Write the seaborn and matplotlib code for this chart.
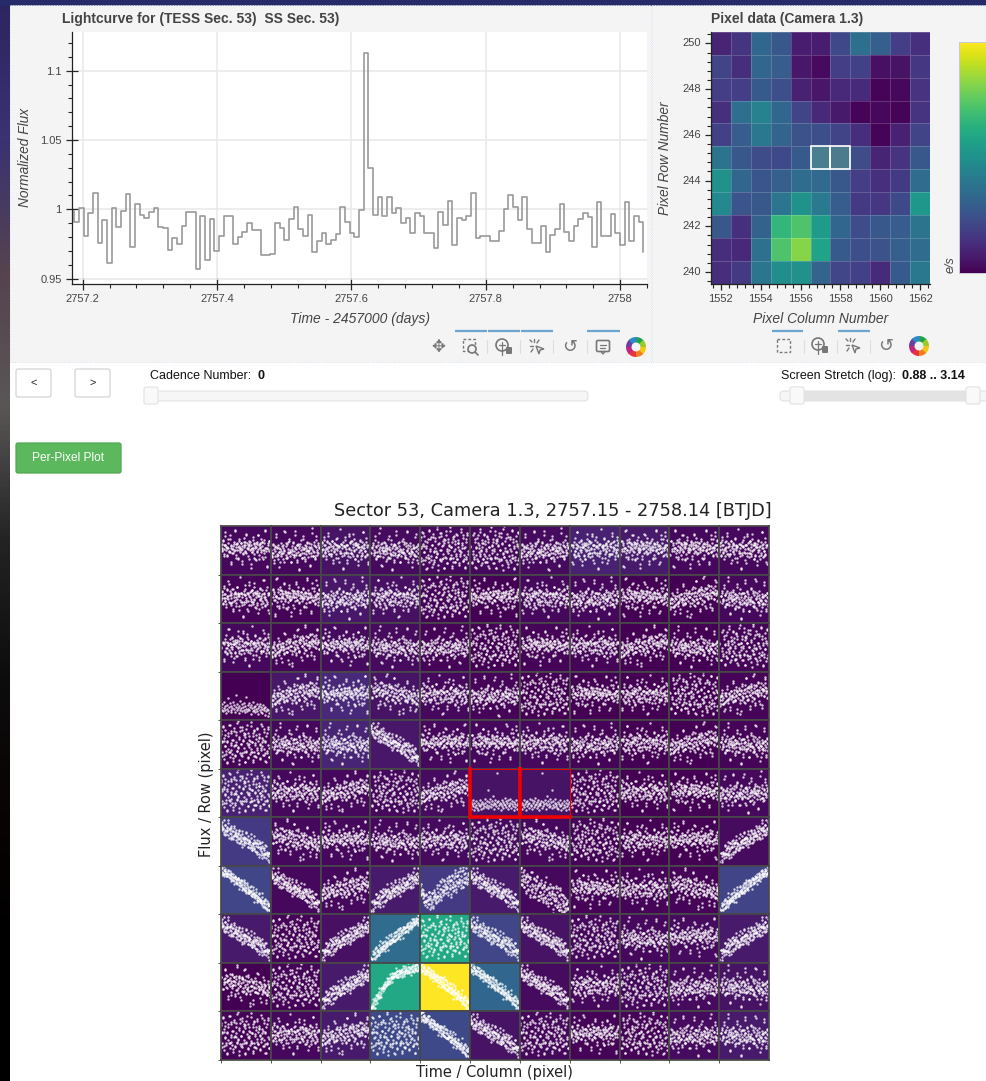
import matplotlib
matplotlib.use("Agg")
import matplotlib.pyplot as plt
import numpy as np
import seaborn as sns
from matplotlib.colors import LinearSegmentedColormap
from matplotlib.patches import Circle, FancyBboxPatch, Polygon, Rectangle, Wedge

W, H = 987, 1081

# lightcurve, one value per 10 min cadence
lc_start = 2757.1806
lc_step = 0.0069444
lc_flux = [
    0.999, 0.991, 1.001, 0.981, 0.997, 1.012, 0.976, 0.992, 0.961, 1.001, 0.987, 0.999, 1.011,
    0.973, 1.004, 0.996, 0.9935, 0.998, 1.001, 0.987, 0.9865, 0.971, 0.979, 0.975, 0.988, 0.998,
    0.998, 0.957, 0.995, 0.9635, 0.993, 0.970, 0.981, 0.995, 0.995, 0.975, 0.980, 0.984, 0.990,
    0.985, 0.985, 0.967, 0.967, 0.968, 0.990, 0.9865, 0.978, 0.993, 1.002, 0.9855, 0.981, 0.996,
    0.969, 0.9775, 0.983, 0.975, 0.978, 0.982, 1.002, 0.991, 0.983, 0.980, 0.9995, 1.113,
    1.030, 0.996, 1.009, 0.995, 1.009, 0.997, 1.001, 0.990, 0.994, 0.983, 0.997, 0.995, 0.983,
    0.983, 0.972, 0.998, 0.989, 1.006, 0.974, 0.994, 0.992, 0.995, 1.012, 0.979, 0.981, 0.981,
    0.9775, 0.9775, 0.9845, 1.000, 1.010, 1.0015, 0.992, 1.009, 0.9855, 0.9755, 0.9755, 0.988,
    0.969, 0.9815, 0.986, 1.004, 0.984, 0.977, 0.988, 0.993, 0.9975, 0.9945, 0.973, 1.0055, 0.981,
    0.981, 0.9965, 0.983, 0.974, 1.005, 0.977, 0.995, 0.9905, 0.969,
]

lc_xticks = [2757.2, 2757.4, 2757.6, 2757.8, 2758.0]
lc_xlabels = ["2757.2", "2757.4", "2757.6", "2757.8", "2758"]
lc_yticks = [0.95, 1.0, 1.05, 1.1]
lc_ylabels = ["0.95", "1", "1.05", "1.1"]

# pixel image, position on the colour bar from 0 to 1, top row is 250
pixel_columns = list(range(1552, 1563))
pixel_rows = list(range(250, 239, -1))
pixel_data = [
    [0.10, 0.15, 0.33, 0.27, 0.08, 0.08, 0.22, 0.36, 0.30, 0.18, 0.14],
    [0.20, 0.13, 0.33, 0.29, 0.06, 0.03, 0.18, 0.19, 0.04, 0.05, 0.16],
    [0.18, 0.18, 0.28, 0.24, 0.09, 0.06, 0.11, 0.12, 0.01, 0.02, 0.15],
    [0.14, 0.36, 0.44, 0.33, 0.20, 0.11, 0.07, 0.01, 0.02, 0.01, 0.15],
    [0.19, 0.29, 0.40, 0.32, 0.25, 0.24, 0.20, 0.13, 0.01, 0.09, 0.20],
    [0.38, 0.27, 0.23, 0.22, 0.28, 0.36, 0.35, 0.23, 0.10, 0.15, 0.27],
    [0.50, 0.33, 0.26, 0.30, 0.35, 0.34, 0.27, 0.18, 0.14, 0.17, 0.35],
    [0.47, 0.26, 0.27, 0.39, 0.50, 0.41, 0.29, 0.17, 0.16, 0.22, 0.53],
    [0.27, 0.14, 0.31, 0.66, 0.72, 0.55, 0.33, 0.23, 0.27, 0.29, 0.38],
    [0.13, 0.11, 0.37, 0.72, 0.82, 0.58, 0.28, 0.24, 0.25, 0.30, 0.35],
    [0.13, 0.17, 0.39, 0.49, 0.50, 0.32, 0.21, 0.19, 0.12, 0.28, 0.40],
]

# background level of each small panel in the per-pixel plot
cell_level = [
    [0.02, 0.02, 0.05, 0.03, 0.02, 0.02, 0.03, 0.09, 0.07, 0.02, 0.02],
    [0.01, 0.01, 0.06, 0.04, 0.01, 0.00, 0.02, 0.02, 0.00, 0.00, 0.02],
    [0.02, 0.01, 0.03, 0.03, 0.01, 0.00, 0.01, 0.01, 0.00, 0.00, 0.01],
    [0.00, 0.06, 0.11, 0.05, 0.02, 0.01, 0.00, 0.00, 0.00, 0.00, 0.01],
    [0.01, 0.02, 0.10, 0.06, 0.02, 0.02, 0.02, 0.01, 0.00, 0.00, 0.01],
    [0.09, 0.02, 0.02, 0.02, 0.03, 0.05, 0.05, 0.01, 0.00, 0.00, 0.02],
    [0.17, 0.02, 0.02, 0.02, 0.03, 0.03, 0.02, 0.01, 0.00, 0.00, 0.03],
    [0.21, 0.02, 0.02, 0.07, 0.17, 0.07, 0.02, 0.01, 0.01, 0.01, 0.20],
    [0.07, 0.01, 0.04, 0.35, 0.60, 0.21, 0.05, 0.02, 0.02, 0.03, 0.07],
    [0.00, 0.01, 0.07, 0.60, 1.00, 0.33, 0.03, 0.02, 0.02, 0.03, 0.05],
    [0.01, 0.02, 0.07, 0.22, 0.22, 0.05, 0.02, 0.01, 0.01, 0.03, 0.07],
]

# the panels hold too many dots to read one by one, so these are typed sample
# clouds in the look of each panel type (percent of the panel height / width)
cloud_time = [
    0.0, 1.3, 2.1, 4.0, 5.2, 5.9, 7.8, 8.4, 10.1, 11.7, 12.2, 14.0, 14.9, 16.6, 17.1, 19.3, 20.2, 21.0, 22.9, 24.4,
    25.1, 26.8, 27.3, 29.5, 30.2, 31.6, 33.0, 33.7, 35.4, 36.1, 38.2, 38.9, 40.3, 41.8, 42.4, 44.1, 45.6, 46.2, 47.9, 48.5,
    50.4, 51.0, 52.7, 53.3, 55.0, 56.2, 56.9, 58.7, 59.4, 61.1, 61.8, 63.5, 64.2, 65.9, 66.4, 68.3, 69.1, 70.0, 71.6, 72.3,
    74.0, 75.2, 75.9, 77.6, 78.3, 80.1, 80.8, 82.4, 83.3, 85.0, 85.7, 87.2, 88.6, 89.3, 91.0, 92.1, 93.4, 94.8, 96.5, 100.0,
]
# typed offsets for a second, denser pass of dots in each panel
cloud_spread = [
    5, -7, 3, -2, 8, -5, 1, -9, 6, -3, 2, 7, -6, -1, 9, -4, 4, -8, 0, 6,
    -5, 2, -3, 7, -7, 1, 5, -2, -9, 3, 8, -4, 0, -6, 6, 2, -8, 4, -1, 7,
    -3, 9, -5, 1, -7, 5, -2, 3, 8, -6, 0, -4, 6, -9, 2, 4, -1, 7, -5, -3,
    1, 8, -7, 3, -2, 5, -6, 9, -4, 0, 6, -8, 2, -1, 7, -3, 4, -5, 1, -2,
]
flat_a = [55, 62, 48, 71, 52, 43, 60, 88, 50, 57, 39, 66, 54, 47, 73, 58, 21, 61, 44, 53, 68, 49, 92, 56, 41, 63, 51, 35, 59, 70, 46, 55, 64, 27, 52, 42, 75, 57, 48, 60, 84, 45, 66, 53, 38, 58, 69, 50, 14, 61, 47, 55, 72, 43, 62, 54, 31, 57, 67, 49, 81, 52, 40, 63, 56, 46, 74, 59, 36, 51, 65, 44, 90, 55, 48, 18, 60, 53, 69, 42]
flat_b = [47, 58, 64, 41, 52, 77, 45, 60, 33, 55, 68, 49, 86, 43, 57, 62, 38, 51, 70, 24, 59, 46, 65, 53, 42, 74, 50, 61, 35, 56, 94, 48, 63, 44, 54, 12, 67, 40, 58, 71, 47, 52, 29, 60, 45, 79, 55, 64, 37, 50, 69, 43, 57, 83, 48, 61, 33, 53, 66, 41, 56, 20, 63, 47, 72, 51, 39, 59, 45, 88, 54, 62, 36, 49, 68, 43, 57, 26, 60, 50]
flat_c = [40, 51, 36, 63, 45, 29, 57, 48, 78, 42, 54, 33, 60, 47, 16, 52, 38, 66, 44, 55, 31, 49, 90, 58, 41, 35, 62, 46, 53, 70, 39, 50, 25, 59, 43, 65, 48, 37, 56, 82, 44, 52, 30, 61, 47, 54, 11, 40, 63, 50, 34, 57, 74, 45, 52, 28, 60, 42, 55, 68, 48, 37, 64, 51, 20, 57, 44, 86, 53, 39, 61, 47, 33, 58, 72, 50, 41, 66, 55, 46]
flat_d = [36, 48, 30, 52, 41, 62, 33, 45, 18, 55, 38, 49, 70, 42, 35, 57, 46, 28, 60, 44, 52, 37, 80, 56, 48, 40, 63, 51, 24, 58, 45, 67, 53, 42, 12, 60, 50, 71, 47, 56, 38, 64, 55, 86, 49, 61, 43, 68, 58, 30, 52, 74, 63, 48, 57, 92, 45, 66, 60, 35, 71, 54, 62, 49, 78, 58, 40, 68, 56, 64, 26, 73, 60, 50, 69, 88, 57, 66, 46, 72]
wide = [72, 34, 55, 88, 21, 63, 46, 79, 30, 58, 12, 67, 41, 91, 25, 52, 74, 38, 60, 16, 83, 47, 29, 69, 55, 36, 94, 44, 19, 62, 77, 33, 50, 86, 27, 58, 42, 70, 14, 65, 37, 81, 53, 23, 74, 45, 60, 31, 89, 40, 56, 18, 68, 35, 78, 49, 26, 62, 43, 84, 32, 57, 71, 20, 51, 38, 93, 46, 64, 28, 76, 41, 55, 15, 67, 36, 82, 48, 24, 59]
slope = [82, 90, 74, 78, 95, 70, 84, 73, 66, 80, 71, 88, 63, 75, 68, 59, 77, 65, 72, 56, 83, 62, 69, 54, 74, 60, 50, 67, 57, 71, 48, 63, 52, 44, 66, 55, 60, 42, 58, 49, 70, 46, 53, 38, 61, 45, 51, 36, 57, 43, 33, 48, 40, 62, 35, 46, 30, 41, 53, 28, 38, 44, 25, 35, 48, 31, 22, 40, 27, 36, 18, 33, 24, 42, 16, 29, 21, 12, 26, 9]
slope_wide = [88, 70, 95, 62, 80, 73, 56, 91, 66, 48, 77, 60, 84, 52, 68, 40, 72, 58, 87, 46, 63, 35, 75, 54, 43, 69, 50, 79, 38, 58, 30, 65, 47, 71, 33, 55, 42, 25, 61, 49, 36, 67, 28, 52, 39, 18, 57, 44, 31, 63, 23, 48, 35, 12, 54, 29, 41, 20, 59, 33, 15, 46, 26, 37, 10, 50, 22, 32, 8, 40, 18, 27, 5, 35, 14, 24, 9, 30, 12, 6]
tight = [94, 88, 96, 85, 91, 83, 89, 93, 80, 86, 78, 84, 90, 76, 81, 73, 79, 85, 71, 77, 68, 74, 80, 66, 72, 63, 70, 75, 61, 67, 58, 65, 71, 56, 62, 53, 60, 66, 50, 57, 48, 55, 61, 45, 52, 43, 50, 56, 40, 47, 38, 45, 51, 35, 42, 33, 40, 46, 30, 37, 28, 35, 41, 25, 32, 23, 30, 36, 20, 27, 17, 24, 30, 14, 21, 11, 18, 24, 8, 13]
arch = [4, 10, 7, 14, 18, 12, 22, 16, 27, 21, 31, 25, 36, 29, 40, 34, 44, 38, 49, 43, 53, 47, 57, 50, 60, 54, 63, 58, 66, 60, 69, 63, 72, 66, 74, 68, 77, 70, 79, 73, 75, 81, 76, 83, 78, 72, 85, 80, 74, 86, 81, 76, 88, 83, 77, 89, 84, 79, 90, 85, 80, 91, 86, 81, 92, 87, 82, 93, 88, 84, 94, 89, 85, 95, 90, 86, 96, 91, 88, 93]
low = [28, 22, 33, 18, 26, 37, 20, 29, 15, 31, 24, 45, 19, 27, 35, 21, 30, 16, 25, 38, 23, 32, 17, 52, 28, 20, 34, 26, 14, 30, 22, 40, 25, 18, 33, 27, 21, 36, 16, 29, 24, 48, 19, 31, 23, 35, 20, 27, 13, 32, 25, 18, 38, 22, 28, 16, 30, 24, 19, 34, 26, 12, 29, 21, 33, 17, 27, 23, 15, 31, 20, 26, 11, 28, 18, 24, 9, 22, 14, 19]
quiet = [22, 31, 18, 27, 36, 24, 15, 30, 21, 33, 26, 19, 29, 14, 25, 35, 23, 28, 17, 32, 20, 27, 24, 38, 30, 22, 34, 26, 56, 19, 31, 24, 37, 28, 21, 33, 25, 44, 29, 18, 35, 27, 23, 31, 92, 20, 34, 26, 30, 16, 28, 36, 24, 32, 19, 27, 40, 25, 21, 33, 29, 17, 35, 26, 23, 38, 30, 20, 28, 34, 24, 15, 31, 27, 22, 36, 26, 18, 30, 25]
valley = [58, 48, 40, 52, 33, 44, 25, 37, 20, 42, 28, 15, 35, 47, 22, 38, 12, 30, 44, 26, 18, 36, 50, 30, 41, 24, 55, 38, 46, 28, 60, 42, 52, 35, 66, 47, 58, 40, 70, 50, 62, 44, 74, 55, 46, 65, 78, 52, 60, 42, 70, 82, 56, 66, 48, 74, 60, 85, 52, 68, 78, 58, 88, 64, 72, 90, 60, 80, 70, 56, 92, 74, 84, 66, 95, 76, 62, 86, 72, 90]

cloud_types = [flat_a, flat_b, flat_c, flat_d, wide, slope, slope_wide, tight, arch, low, quiet, valley]

# which cloud each panel shows, 1-based, negative means mirrored in time
cell_cloud = [
    [1, 3, 2, -3, 5, -5, 3, -2, -1, -1, 2],
    [2, -1, 3, -2, 5, 1, -2, 3, -1, 4, -3],
    [-2, 4, 1, -3, 3, 5, -1, 2, 4, -3, -5],
    [10, 4, 1, -4, 2, 3, 5, -1, -2, -5, 4],
    [5, -3, -3, 6, 1, -1, 2, 3, -2, 4, -3],
    [5, 2, 4, -5, 4, 11, -11, 5, 2, -1, 3],
    [6, -4, 1, -3, 2, 5, -4, -5, -2, 1, -6],
    [8, 6, 4, -6, 12, 6, 7, -1, 2, -4, -8],
    [6, 5, -6, -8, 5, 6, 6, 5, -3, 1, -6],
    [-4, 5, -6, 9, 8, 8, 6, -2, 5, 3, -3],
    [5, 2, 4, 5, 8, 6, 5, 1, -5, 3, -3],
]
red_cells = [(5, 5), (5, 6)]

strip_colors = ["#2c2560", "#3a3272", "#55434f", "#5a5656", "#232323", "#0d0d0d", "#0a0303", "#000000", "#000000"]


def px_axes(fig, left, top, right, bottom, **kwargs):
    return fig.add_axes([left / W, 1 - bottom / H, (right - left) / W, (bottom - top) / H], **kwargs)


def draw_chrome(bg):
    strip = LinearSegmentedColormap.from_list("strip", strip_colors)
    bg.imshow(np.linspace(0, 1, 256)[:, None], cmap=strip, extent=(0, 10, H, 0), aspect="auto", zorder=0)
    bg.set_xlim(0, W)
    bg.set_ylim(H, 0)
    bg.add_patch(Rectangle((0, 0), W, 5, color="#262a68", zorder=1))
    for x0, x1 in [(10, 651), (652, W)]:
        bg.add_patch(Rectangle((x0, 5), x1 - x0, 357, fc="#f4f4f4", ec="#cfe0ef", lw=0.7, ls=":", zorder=1))


def button(bg, x0, y0, x1, y1, label, fc="white", ec="#d5d5d5", color="#222222", size=8):
    bg.add_patch(FancyBboxPatch((x0 + 2, y0 + 2), x1 - x0 - 4, y1 - y0 - 4, boxstyle="round,pad=2",
                                fc=fc, ec=ec, lw=0.9, zorder=2))
    bg.text((x0 + x1) / 2, (y0 + y1) / 2, label, ha="center", va="center", color=color, fontsize=size, zorder=3)


def slider(bg, x0, x1, handles, filled=None):
    bg.add_patch(FancyBboxPatch((x0, 392), x1 - x0, 8, boxstyle="round,pad=1,rounding_size=4", fc="#f6f6f6", ec="#e2e2e2",
                                lw=0.8, zorder=2))
    if filled:
        bg.add_patch(Rectangle((filled[0], 391), filled[1] - filled[0], 10, fc="#e3e3e3", ec="none", zorder=2))
    for hx in handles:
        bg.add_patch(FancyBboxPatch((hx - 5, 389), 10, 13, boxstyle="round,pad=2", fc="#f9f9f9", ec="#e2e2e2",
                                    lw=0.8, zorder=3))


def bokeh_logo(bg, cx, cy):
    colors = ["#1fa14a", "#9ac92c", "#f5c518", "#f47b20", "#e8323c", "#c0267e", "#6b3fa0", "#2b8cc4"]
    for i, col in enumerate(colors):
        bg.add_patch(Wedge((cx, cy), 10, i * 45 - 90, i * 45 - 40, width=5.5, fc=col, ec="none", zorder=4))


def tap_icon(bg, cx, y, gray):
    # short burst strokes and a small arrow
    for dx0, dy0, dx1, dy1 in [(-7, -1, -4, -1), (-3, -8, -3, -5), (2, -7, 0, -4), (-7, -7, -5, -5), (-6, 5, -4, 2)]:
        bg.plot([cx + dx0, cx + dx1], [y + dy0, y + dy1], color=gray, lw=1, zorder=4)
    bg.add_patch(Polygon([(cx - 1, y - 1), (cx + 7, y + 2), (cx + 3, y + 3), (cx + 2, y + 7)], closed=True,
                         fc="none", ec=gray, lw=1, zorder=4))


def tool_icons(bg, tools, bars, seps, logo_x, y=347):
    gray = "#777777"
    for name, cx in tools:
        if name == "pan":
            bg.text(cx, y, "\u2725", ha="center", va="center", fontsize=12, color=gray, family="DejaVu Sans")
        elif name == "box":
            bg.add_patch(Rectangle((cx - 7, y - 7), 13, 13, fc="none", ec=gray, lw=1, ls=(0, (2, 1.5)), zorder=4))
        elif name == "boxzoom":
            bg.add_patch(Rectangle((cx - 8, y - 8), 12, 12, fc="none", ec=gray, lw=1, ls=(0, (2, 1.5)), zorder=4))
            bg.add_patch(Circle((cx + 1, y + 2), 4, fc="#f4f4f4", ec=gray, lw=1.2, zorder=4))
            bg.plot([cx + 4, cx + 7], [y + 5, y + 8], color=gray, lw=1.2, zorder=4)
        elif name == "wheel":
            bg.add_patch(Circle((cx - 2, y - 2), 6, fc="none", ec=gray, lw=1.2, zorder=4))
            bg.plot([cx - 5, cx + 1], [y - 2, y - 2], color=gray, lw=0.9, zorder=4)
            bg.plot([cx - 2, cx - 2], [y - 5, y + 8], color=gray, lw=0.9, zorder=4)
            bg.add_patch(FancyBboxPatch((cx + 3, y + 1), 4, 5, boxstyle="round,pad=1", fc=gray, ec="none", zorder=4))
        elif name == "tap":
            tap_icon(bg, cx, y, gray)
        elif name == "reset":
            bg.text(cx, y, "\u21ba", ha="center", va="center", fontsize=13, color=gray, family="DejaVu Sans")
        elif name == "hover":
            bg.add_patch(FancyBboxPatch((cx - 5, y - 5), 10, 8, boxstyle="round,pad=1.5", fc="none", ec=gray, lw=1.2,
                                        zorder=4))
            bg.plot([cx - 3, cx + 3], [y - 2.5, y - 2.5], color=gray, lw=0.9, zorder=4)
            bg.plot([cx - 3, cx + 2], [y + 0.5, y + 0.5], color=gray, lw=0.9, zorder=4)
            bg.plot([cx - 2, cx, cx + 2], [y + 4.5, y + 7, y + 4.5], color=gray, lw=1, zorder=4)
    for x0, x1 in bars:
        bg.plot([x0, x1], [331, 331], color="#6ba5d0", lw=1.6, solid_capstyle="butt", zorder=4)
    for sx in seps:
        bg.plot([sx, sx], [340, 353], color="#dddddd", lw=0.8, zorder=4)
    bokeh_logo(bg, logo_x, y)


def draw_lightcurve(fig):
    ax = px_axes(fig, 72, 32, 647, 283.5)
    times = lc_start + lc_step * np.arange(len(lc_flux))
    sns.lineplot(x=times, y=lc_flux, ax=ax, color="#9a9a9a", lw=1.2, drawstyle="steps-post",
                 estimator=None, errorbar=None)
    ax.set_xlim(2757.184, 2758.04)
    ax.set_ylim(0.9465, 1.1279)
    ax.set_facecolor("white")
    ax.grid(True, color="#e8e8e8", lw=1.1)
    ax.set_axisbelow(True)
    for side in ["top", "right"]:
        ax.spines[side].set_visible(False)
    for side in ["left", "bottom"]:
        ax.spines[side].set_color("#222222")
        ax.spines[side].set_linewidth(0.9)
    ax.set_xticks(lc_xticks, lc_xlabels)
    ax.set_yticks(lc_yticks, lc_ylabels)
    ax.set_xticks(np.arange(2757.2, 2758.04, 0.04), minor=True)
    ax.set_yticks(np.arange(0.95, 1.125, 0.01), minor=True)
    ax.tick_params(which="major", direction="inout", length=8, width=0.9, labelsize=8, labelcolor="#444444", bottom=True, left=True)
    ax.tick_params(which="minor", direction="out", length=3, width=0.8, bottom=True, left=True)
    ax.grid(False, which="minor")
    ax.set_xlabel("Time - 2457000 (days)", style="italic", fontsize=10, color="#444444", labelpad=6)
    ax.set_ylabel("Normalized Flux", style="italic", fontsize=9.9, color="#444444", labelpad=5.5)


def draw_pixels(fig):
    ax = px_axes(fig, 711, 32, 930, 283.5)
    cax = px_axes(fig, 959, 42, 987, 273)
    sns.heatmap(pixel_data, ax=ax, cbar_ax=cax, cmap="viridis", vmin=0, vmax=1,
                linewidths=0.7, linecolor=(1, 1, 1, 0.18))
    for col in [5, 6]:
        ax.add_patch(Rectangle((col, 5), 1, 1, fc=(0.75, 0.72, 0.55, 0.2), ec="white", lw=1.2, zorder=5))
    major_x = np.arange(0.5, 11, 2)
    ax.set_xticks(major_x, pixel_columns[::2], rotation=0)
    ax.set_yticks(major_x, pixel_rows[::2], rotation=0)
    ax.set_xticks(np.arange(0.1, 11, 0.4), minor=True)
    ax.set_yticks(np.arange(0.1, 11, 0.4), minor=True)
    for side in ["left", "bottom"]:
        ax.spines[side].set_visible(True)
        ax.spines[side].set_color("#222222")
        ax.spines[side].set_linewidth(0.9)
    ax.tick_params(which="major", direction="inout", length=8, width=0.9, labelsize=8, labelcolor="#444444", bottom=True, left=True)
    ax.tick_params(which="minor", direction="out", length=3, width=0.8, bottom=True, left=True)
    ax.set_xlabel("Pixel Column Number", style="italic", fontsize=10, color="#444444", labelpad=6)
    ax.set_ylabel("Pixel Row Number", style="italic", fontsize=9.9, color="#444444", labelpad=7)
    cax.set_yticks([0.048, 0.494, 0.935], ["", "", ""])
    cax.tick_params(direction="in", length=6, width=0.9, color="white", right=True, left=False)
    for spine in cax.spines.values():
        spine.set_visible(True)
        spine.set_color("#c8c8d8")
        spine.set_linewidth(0.7)


def draw_grid(fig):
    left, top, right, bottom = 221, 526, 769, 1060
    cw = (right - left) / 11
    ch = (bottom - top) / 11
    viridis = plt.get_cmap("viridis")
    for r in range(11):
        for c in range(11):
            ax = px_axes(fig, left + c * cw, top + r * ch, left + (c + 1) * cw, top + (r + 1) * ch)
            code = cell_cloud[r][c]
            cloud = np.array(cloud_types[abs(code) - 1])
            xx = np.array(cloud_time)
            if code < 0:
                xx = 100 - xx
            sns.scatterplot(x=xx, y=cloud, ax=ax, color="white", s=3, alpha=0.78,
                            linewidth=0, legend=False, clip_on=True)
            # second pass thickens the band, the quiet panels stay thin
            if abs(code) not in (10, 11):
                sns.scatterplot(x=xx + 0.6, y=cloud + np.array(cloud_spread), ax=ax, color="white", s=3, alpha=0.78,
                                linewidth=0, legend=False, clip_on=True)
            ax.set_facecolor(viridis(cell_level[r][c]))
            ax.set_xlim(0, 100)
            ax.set_ylim(0, 100)
            ax.set_xlabel("")
            ax.set_ylabel("")
            ax.set_xticks([0] if r == 10 else [], [""] if r == 10 else [])
            ax.set_yticks([0] if c == 0 else [], [""] if c == 0 else [])
            ax.tick_params(length=2, width=0.7, color="#555555", bottom=True, left=True)
            for spine in ax.spines.values():
                spine.set_visible(True)
                spine.set_color("#484848")
                spine.set_linewidth(1.25)
            if (r, c) in red_cells:
                ax.set_zorder(3)
                for side, lw in [("left", 2.6), ("right", 0.8 if c == 6 else 2.6), ("top", 0.7), ("bottom", 2.6)]:
                    ax.spines[side].set_color("#ee0000")
                    ax.spines[side].set_linewidth(lw)


def main():
    sns.set_theme(style="white")
    plt.rcParams["font.family"] = ["Liberation Sans", "DejaVu Sans"]

    fig = plt.figure(figsize=(W / 100, H / 100), dpi=100, facecolor="white")
    bg = fig.add_axes([0, 0, 1, 1], zorder=0)
    bg.axis("off")
    draw_chrome(bg)

    bg.text(62, 19.5, "Lightcurve for (TESS Sec. 53)  SS Sec. 53)", fontsize=10, fontweight="bold",
            color="#444444", va="center")
    bg.text(711, 19.5, "Pixel data (Camera 1.3)", fontsize=10, fontweight="bold", color="#444444", va="center")
    bg.text(951, 265, "e/s", style="italic", fontsize=9, color="#444444", rotation=90, ha="center", va="center")

    tool_icons(bg, [("pan", 438), ("boxzoom", 471), ("wheel", 504), ("tap", 537), ("reset", 570), ("hover", 603)],
               [(455, 487), (488, 520), (521, 553), (587, 620)], [487, 520, 553, 587], 636)
    tool_icons(bg, [("box", 784), ("wheel", 820), ("tap", 853), ("reset", 886)],
               [(772, 803), (838, 870)], [804, 837, 870], 919, y=346)

    button(bg, 16, 369, 51, 397, "<")
    button(bg, 75, 369, 110, 397, ">")
    bg.text(150, 376, "Cadence Number:", fontsize=9, color="#111111", va="center")
    bg.text(258, 376, "0", fontsize=9, fontweight="bold", color="#111111", va="center")
    slider(bg, 152, 587, [151])
    bg.text(781, 376, "Screen Stretch (log):", fontsize=9, color="#111111", va="center")
    bg.text(902, 376, "0.88 .. 3.14", fontsize=9, fontweight="bold", color="#111111", va="center")
    slider(bg, 781, 1000, [797, 973], filled=(797, 973))
    button(bg, 16, 443, 121, 473, "Per-Pixel Plot", fc="#5cb85c", ec="#52a852", color="white", size=8.6)

    draw_lightcurve(fig)
    draw_pixels(fig)
    draw_grid(fig)

    bg.text(552.5, 511.5, "Sector 53, Camera 1.3, 2757.15 - 2758.14 [BTJD]", family="DejaVu Sans", fontsize=12.75,
            color="#222222", ha="center", va="center")
    bg.text(494, 1072, "Time / Column (pixel)", family="DejaVu Sans", fontsize=10.55, color="#222222", ha="center", va="center")
    bg.text(206, 794, "Flux / Row (pixel)", family="DejaVu Sans", fontsize=10.55, color="#222222", rotation=90, ha="center", va="center")

    fig.savefig("out.png", dpi=100, facecolor="white")
    plt.close(fig)


if __name__ == "__main__":
    main()
